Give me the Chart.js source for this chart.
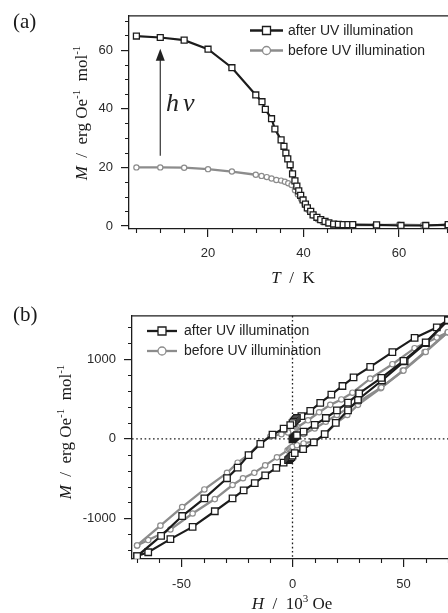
<!DOCTYPE html>
<html>
<head>
<meta charset="utf-8">
<script src="https://cdn.jsdelivr.net/npm/chart.js@4.4.0/dist/chart.umd.min.js"></script>
<style>
  html, body { margin: 0; padding: 0; width: 448px; height: 613px; overflow: hidden; background: #fff; }
  canvas { position: absolute; left: 0; }
</style>
</head>
<body>
<canvas id="chartA" width="470" height="300" style="top:0"></canvas>
<canvas id="chartB" width="470" height="313" style="top:300px"></canvas>
<script>
// ---- (a) M vs T ----
const tempAfter = [5, 10, 15, 20, 25, 30, 31.3, 32, 33.3, 34, 35.3, 35.9, 36.3, 36.7, 37.2, 37.7, 38.2, 38.6, 39, 39.4, 39.9, 40.4, 40.8, 41.5, 42, 42.8, 43.6, 44.5, 45.3, 46.3, 47.3, 48.3, 49.3, 50.3, 55.3, 60.4, 65.6, 70.3];
const magAfter  = [64.8, 64.3, 63.4, 60.3, 54.0, 44.7, 42.4, 39.8, 36.6, 33.1, 29.4, 27.2, 24.9, 22.9, 20.9, 17.8, 15.4, 13.6, 12.0, 10.5, 8.9, 7.5, 6.2, 5.0, 3.8, 3.0, 2.2, 1.6, 1.1, 0.7, 0.6, 0.5, 0.5, 0.5, 0.4, 0.2, 0.2, 0.5];
const tempBefore = [5, 10, 15, 20, 25, 30, 31.2, 32.3, 33.3, 34.3, 35.3, 36.1, 36.8, 37.5, 38.2, 38.8, 39.5, 40.2, 41, 42, 43, 44, 45, 46, 48, 50, 55, 60, 65, 70];
const magBefore  = [20, 20, 19.9, 19.4, 18.6, 17.5, 17.1, 16.7, 16.2, 15.7, 15.5, 15.1, 14.6, 14.0, 12.2, 10.8, 9.2, 7.4, 5.5, 3.6, 2.2, 1.3, 0.8, 0.5, 0.4, 0.3, 0.3, 0.5, 0.3, 0.3];
const tMajor = [20, 40, 60];
const tMinor = [5, 10, 15, 25, 30, 35, 45, 50, 55, 65, 70];
const mMajorA = [0, 20, 40, 60];
const mMinorA = [5, 10, 15, 25, 30, 35, 45, 50, 55, 65, 70];
const arrowT = 10, arrowFrom = 24, arrowTo = 60.5;   // hν arrow, data units

// ---- (b) M vs H (hysteresis) ----
const hVirginAfter = [0, 0.5, 1, 1.5, 2, 5, 10, 15, 20, 25, 30, 40, 50, 60, 70];
const mVirginAfter = [-5, 10, 22, 35, 45, 90, 175, 262, 358, 455, 571, 765, 980, 1212, 1490];
const hDescAfter = [70, 65, 55, 45, 35, 27.5, 22.5, 17.5, 12.5, 8, 4, 2, 1.5, 1, 0.5, 0, -1, -4, -9, -14.5, -19.8, -24.7, -29.5, -39.7, -49.7, -59.2, -70];
const mDescAfter = [1490, 1400, 1268, 1090, 905, 772, 664, 556, 452, 352, 285, 262, 248, 232, 215, 198, 172, 129, 52, -64, -205, -362, -495, -749, -970, -1220, -1473];
const hAscAfter = [-70, -65, -55, -45, -35, -27, -22, -17, -12.3, -7.3, -4, -2, -1.5, -1, -0.5, 0, 1, 4.8, 9.6, 14.5, 19.5, 25, 29.5, 40.3, 50.5, 60.1, 70];
const mAscAfter = [-1473, -1425, -1260, -1107, -910, -749, -648, -556, -459, -366, -300, -268, -255, -242, -228, -212, -180, -130, -45, 60, 200, 358, 491, 733, 975, 1204, 1490];

const hVirginBefore = [0, 0.5, 1, 2, 5, 10, 15, 20, 25, 30, 40, 50, 60, 70];
const mVirginBefore = [0, 8, 16, 30, 62, 130, 215, 300, 385, 470, 645, 858, 1092, 1340];
const hDescBefore = [70, 65, 55, 45, 35, 27, 22, 17, 12, 7, 2.2, 1.5, 1, 0.5, 0, -2, -5, -10, -14.5, -19.8, -24.7, -29.5, -39.7, -49.7, -59.5, -70];
const mDescBefore = [1340, 1272, 1139, 938, 757, 580, 495, 427, 334, 233, 145, 130, 120, 110, 100, 80, 58, 30, -52, -200, -300, -427, -636, -857, -1091, -1340];
const hAscBefore = [-70, -65, -55, -45, -35, -27, -22.3, -17.2, -12.3, -7, -2.2, -1.5, -1, -0.5, 0, 2, 5, 10, 14.5, 19.8, 24.7, 29.5, 39.7, 49.7, 59.5, 70];
const mAscBefore = [-1340, -1272, -1139, -938, -757, -580, -495, -427, -334, -233, -145, -130, -120, -110, -100, -80, -58, -30, 52, 200, 300, 427, 636, 857, 1091, 1340];

const hMajor = [-50, 0, 50];
const hMinor = [-70, -60, -40, -30, -20, -10, 10, 20, 30, 40, 60, 70];
const mMajorB = [-1000, 0, 1000];
const mMinorB = [-1400, -1200, -800, -600, -400, -200, 200, 400, 600, 800, 1200, 1400];

// 공통 스타일
const INK = '#1c1c1c';
const GREY = '#8c8c8c';
const SANS = '"Liberation Sans", Arial, sans-serif';
const SERIF = '"Liberation Serif", "Times New Roman", serif';

function toPoints(xs, ys) {
    return xs.map((x, i) => ({ x: x, y: ys[i] }));
}

function afterSet(xs, ys, sq) {
    return {
        data: toPoints(xs, ys),
        showLine: true,
        borderColor: INK,
        borderWidth: 2.2,
        pointStyle: 'rect',
        pointRadius: sq,
        pointBackgroundColor: '#fff',
        pointBorderColor: INK,
        pointBorderWidth: 1.3
    };
}

function beforeSet(xs, ys, r) {
    return {
        data: toPoints(xs, ys),
        showLine: true,
        borderColor: GREY,
        borderWidth: 2.3,
        pointStyle: 'circle',
        pointRadius: r,
        pointBackgroundColor: '#fff',
        pointBorderColor: GREY,
        pointBorderWidth: 1.2
    };
}

// 혼합 글꼴 텍스트 (이탤릭, 위첨자)
function drawRich(ctx, parts, x, y) {
    let total = 0;
    parts.forEach(p => { ctx.font = p[1]; total += ctx.measureText(p[0]).width; });
    let cx = x - total / 2;
    parts.forEach(p => {
        ctx.font = p[1];
        ctx.fillText(p[0], cx, y + (p[2] || 0));
        cx += ctx.measureText(p[0]).width;
    });
}

function axisOpts(min, max, major, size, isX, pad) {
    return {
        type: 'linear',
        min: min,
        max: max,
        afterBuildTicks: s => { s.ticks = major.map(v => ({ value: v })); },
        afterFit: s => { if (isX) s.height = size; else s.width = size; },
        ticks: { font: { family: SANS, size: 13 }, color: '#2a2a2a', padding: pad, maxRotation: 0, callback: v => String(v) },
        grid: { drawOnChartArea: false, drawTicks: true, tickLength: 8, color: INK, lineWidth: 1.2 },
        border: { display: true, color: INK, width: 1.3 }
    };
}

// 프레임, 보조 눈금, 범례, 제목 등
function decoPlugin(cfg) {
    return {
        id: 'deco',
        beforeDatasetsDraw(chart) {
            const ctx = chart.ctx, a = chart.chartArea;
            const xs = chart.scales.x, ys = chart.scales.y;
            if (cfg.zeroLines) {
                ctx.save();
                ctx.strokeStyle = INK;
                ctx.lineWidth = 1.3;
                ctx.setLineDash([1.6, 2.6]);
                const px = xs.getPixelForValue(0), py = ys.getPixelForValue(0);
                ctx.beginPath();
                ctx.moveTo(px, a.top); ctx.lineTo(px, a.bottom);
                ctx.moveTo(a.left, py); ctx.lineTo(a.right, py);
                ctx.stroke();
                ctx.restore();
            }
        },
        afterDraw(chart) {
            const ctx = chart.ctx, a = chart.chartArea;
            const xs = chart.scales.x, ys = chart.scales.y;
            ctx.save();
            ctx.strokeStyle = INK;
            ctx.lineWidth = 1.3;
            ctx.beginPath();
            ctx.moveTo(a.left, a.top); ctx.lineTo(a.right, a.top); ctx.lineTo(a.right, a.bottom);
            ctx.stroke();

            // minor ticks
            ctx.lineWidth = 1.1;
            ctx.beginPath();
            cfg.xMinor.forEach(v => {
                const p = Math.round(xs.getPixelForValue(v)) + 0.5;
                ctx.moveTo(p, a.bottom); ctx.lineTo(p, a.bottom + 4);
            });
            cfg.yMinor.forEach(v => {
                const p = Math.round(ys.getPixelForValue(v)) + 0.5;
                ctx.moveTo(a.left - 4, p); ctx.lineTo(a.left, p);
            });
            ctx.stroke();

            // legend
            const lg = cfg.legend;
            [[INK, 'rect', 'after UV illumination', lg.y[0]], [GREY, 'circle', 'before UV illumination', lg.y[1]]].forEach(r => {
                ctx.strokeStyle = r[0];
                ctx.lineWidth = 2.3;
                ctx.beginPath();
                ctx.moveTo(lg.x0, r[3]); ctx.lineTo(lg.x1, r[3]);
                ctx.stroke();
                ctx.fillStyle = '#fff';
                ctx.lineWidth = 1.3;
                const mx = (lg.x0 + lg.x1) / 2;
                ctx.beginPath();
                if (r[1] === 'rect') ctx.rect(mx - 4, r[3] - 4, 8, 8);
                else ctx.arc(mx, r[3], 4, 0, Math.PI * 2);
                ctx.fill(); ctx.stroke();
                ctx.fillStyle = '#222';
                ctx.font = '14px ' + SANS;
                ctx.textBaseline = 'middle';
                ctx.textAlign = 'left';
                ctx.fillText(r[2], lg.tx, r[3] + 0.5);
            });

            // panel label and axis titles
            ctx.fillStyle = '#1a1a1a';
            ctx.textBaseline = 'alphabetic';
            ctx.font = '21px ' + SERIF;
            ctx.fillText(cfg.panel[0], cfg.panel[1], cfg.panel[2]);
            drawRich(ctx, cfg.xTitle, cfg.xTitlePos[0], cfg.xTitlePos[1]);
            ctx.save();
            ctx.translate(cfg.yTitlePos[0], cfg.yTitlePos[1]);
            ctx.rotate(-Math.PI / 2);
            drawRich(ctx, cfg.yTitle, 0, 0);
            ctx.restore();

            // hν arrow
            if (cfg.arrow) {
                const ax = xs.getPixelForValue(arrowT);
                const y0 = ys.getPixelForValue(arrowFrom), y1 = ys.getPixelForValue(arrowTo);
                ctx.strokeStyle = '#333';
                ctx.fillStyle = '#222';
                ctx.lineWidth = 1.2;
                ctx.beginPath();
                ctx.moveTo(ax, y0); ctx.lineTo(ax, y1 + 10);
                ctx.stroke();
                ctx.beginPath();
                ctx.moveTo(ax, y1); ctx.lineTo(ax - 4.5, y1 + 12); ctx.lineTo(ax + 4.5, y1 + 12);
                ctx.closePath();
                ctx.fill();
                ctx.font = 'italic 26px ' + SERIF;
                ctx.fillText('h', 166, 111);
                ctx.fillText('\u03BD', 183, 111);
            }
            ctx.restore();
        }
    };
}

const yTitleParts = [
    ['M', 'italic 17px ' + SERIF],
    ['  /  erg Oe', '17px ' + SERIF],
    ['-1', '11px ' + SERIF, -7],
    ['  mol', '17px ' + SERIF],
    ['-1', '11px ' + SERIF, -7]
];

// (a) 온도 의존성
new Chart(document.getElementById('chartA'), {
    type: 'scatter',
    data: {
        datasets: [
            afterSet(tempAfter, magAfter, 4.2),
            beforeSet(tempBefore, magBefore, 2.6)
        ]
    },
    options: {
        responsive: false,
        animation: false,
        events: [],
        layout: { padding: { top: 12, right: 17, left: 0, bottom: 0 } },
        plugins: { legend: { display: false }, tooltip: { enabled: false } },
        scales: {
            x: axisOpts(3.45, 71.3, tMajor, 71, true, 9),
            y: axisOpts(-1, 71.7, mMajorA, 129, false, 8)
        }
    },
    plugins: [decoPlugin({
        xMinor: tMinor, yMinor: mMinorA,
        legend: { x0: 250, x1: 283, tx: 288, y: [30.5, 50.5] },
        panel: ['(a)', 13, 28],
        xTitle: [['T', 'italic 17px ' + SERIF], ['  /  K', '17px ' + SERIF]],
        xTitlePos: [293, 283],
        yTitle: yTitleParts,
        yTitlePos: [87, 113],
        arrow: true
    })]
});

// (b) 자기 이력 곡선
new Chart(document.getElementById('chartB'), {
    type: 'scatter',
    data: {
        datasets: [
            afterSet(hVirginAfter, mVirginAfter, 4.6),
            afterSet(hDescAfter, mDescAfter, 4.6),
            afterSet(hAscAfter, mAscAfter, 4.6),
            beforeSet(hVirginBefore, mVirginBefore, 2.7),
            beforeSet(hDescBefore, mDescBefore, 2.7),
            beforeSet(hAscBefore, mAscBefore, 2.7)
        ]
    },
    options: {
        responsive: false,
        animation: false,
        events: [],
        layout: { padding: { top: 6, right: 17, left: 0, bottom: 0 } },
        plugins: { legend: { display: false }, tooltip: { enabled: false } },
        scales: {
            x: axisOpts(-72.3, 72.3, hMajor, 54, true, 10),
            y: axisOpts(-1510, 1546, mMajorB, 132, false, 8)
        }
    },
    plugins: [decoPlugin({
        xMinor: hMinor, yMinor: mMinorB,
        zeroLines: true,
        legend: { x0: 147, x1: 177, tx: 184, y: [31, 51] },
        panel: ['(b)', 13, 21],
        xTitle: [['H', 'italic 17px ' + SERIF], ['  /  10', '17px ' + SERIF], ['3', '11px ' + SERIF, -7], [' Oe', '17px ' + SERIF]],
        xTitlePos: [292, 309],
        yTitle: yTitleParts,
        yTitlePos: [71, 132],
        arrow: false
    })]
});
</script>
</body>
</html>
